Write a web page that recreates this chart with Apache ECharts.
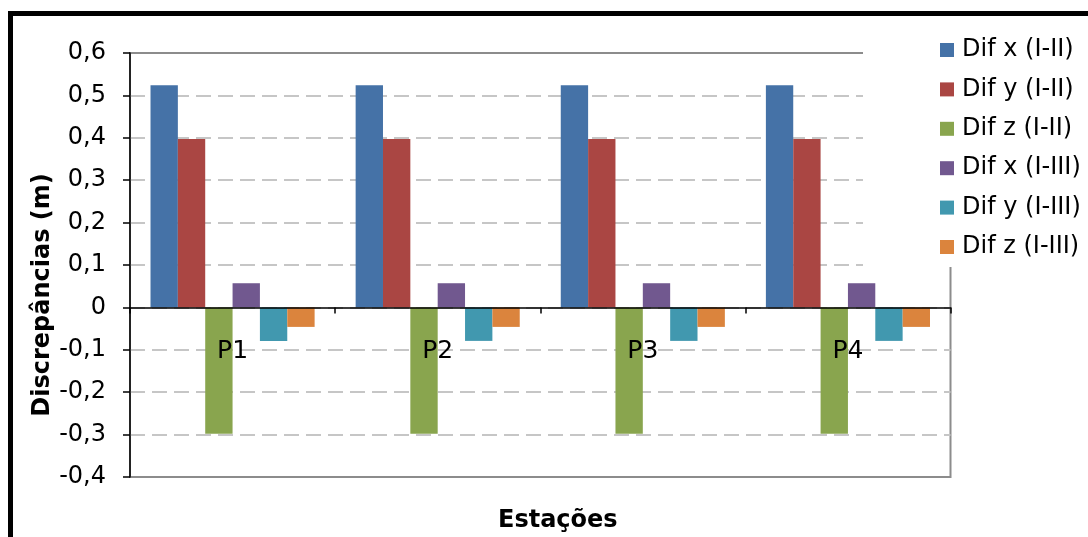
<!DOCTYPE html>
<html>
<head>
<meta charset="utf-8">
<script src="https://cdn.jsdelivr.net/npm/echarts@6/dist/echarts.min.js"></script>
<style>
  html, body { margin: 0; padding: 0; background: #fff; }
  #chart { width: 1088px; height: 537px; }
</style>
</head>
<body>
<div id="chart"></div>
<script>
// Stations (categories)
const stations = ['P1', 'P2', 'P3', 'P4'];

// Discrepancies in metres, per station
const difXI_II = [0.524, 0.524, 0.524, 0.524];
const difYI_II = [0.397, 0.397, 0.397, 0.397];
const difZI_II = [-0.298, -0.298, -0.298, -0.298];
const difXI_III = [0.057, 0.057, 0.057, 0.057];
const difYI_III = [-0.079, -0.079, -0.079, -0.079];
const difZI_III = [-0.046, -0.046, -0.046, -0.046];

const seriesNames = ['Dif x (I-II)', 'Dif y (I-II)', 'Dif z (I-II)', 'Dif x (I-III)', 'Dif y (I-III)', 'Dif z (I-III)'];
const seriesValues = [difXI_II, difYI_II, difZI_II, difXI_III, difYI_III, difZI_III];
const seriesColors = ['#4572A7', '#AA4643', '#89A54E', '#71588F', '#4198AF', '#DB843D'];

// value axis range
const yMin = -0.4;
const yMax = 0.6;

const FONT = 'DejaVu Sans';

// grid geometry: the category axis sits on the zero line
const gridTop = 53;
const gridBottom = 60;
const chartHeight = 537;
const plotHeight = chartHeight - gridTop - gridBottom;
const zeroOffset = -plotHeight * (0 - yMin) / (yMax - yMin);

const chart = echarts.init(document.getElementById('chart'), null, { renderer: 'canvas' });

chart.setOption({
  animation: false,
  backgroundColor: '#fff',
  title: {
    text: 'Estações',
    left: 498,
    top: 509,
    padding: 0,
    textStyle: { fontFamily: FONT, fontWeight: 'bold', fontSize: 24, color: '#000' }
  },
  grid: {
    left: 130, right: 137.5, top: gridTop, bottom: gridBottom,
    show: true, borderColor: '#8c8c8c', borderWidth: 2, backgroundColor: 'transparent'
  },
  legend: {
    orient: 'vertical',
    left: 935,
    top: 32,
    z: 20,
    itemWidth: 14,
    itemHeight: 14,
    itemGap: 13.4,
    icon: 'rect',
    textStyle: { fontFamily: FONT, fontSize: 24, color: '#000', lineHeight: 26, padding: [0, 0, 0, 3] },
    data: seriesNames
  },
  xAxis: {
    type: 'category',
    data: stations,
    position: 'bottom',
    offset: zeroOffset,
    z: 5,
    axisLine: { onZero: false, lineStyle: { color: '#000', width: 1.5 } },
    axisTick: { show: true, length: 6, alignWithLabel: false, lineStyle: { color: '#000', width: 1.5 } },
    axisLabel: { interval: 0, margin: 32, fontFamily: FONT, fontSize: 25, color: '#000' },
    splitLine: { show: false }
  },
  yAxis: {
    type: 'value',
    min: yMin,
    max: yMax,
    interval: 0.1,
    name: 'Discrepâncias (m)',
    nameLocation: 'middle',
    nameGap: 75,
    nameMoveOverlap: false,
    nameTextStyle: { fontFamily: FONT, fontWeight: 'bold', fontSize: 24, color: '#000', padding: [0, 60, 0, 0] },
    axisLine: { show: true, lineStyle: { color: '#000', width: 1.5 } },
    axisTick: { show: true, length: 7, lineStyle: { color: '#000', width: 1.5 } },
    axisLabel: {
      margin: 24,
      fontFamily: FONT,
      fontSize: 24,
      color: '#000',
      formatter: function (v) {
        if (Math.abs(v) < 1e-9) return '0';
        return v.toFixed(1).replace('.', ',');
      }
    },
    splitLine: {
      show: true,
      showMinLine: false,
      showMaxLine: false,
      lineStyle: { color: '#c6c6c6', width: 2, type: [15, 7] }
    }
  },
  graphic: [
    // white panel behind the legend
    { type: 'rect', z: 10, shape: { x: 863, y: 20, width: 300, height: 247 }, style: { fill: '#fff' } },
    // outer black frame
    { type: 'rect', z: 30, shape: { x: 10.5, y: 13.5, width: 1300, height: 800 }, style: { fill: 'none', stroke: '#000', lineWidth: 5 } }
  ],
  series: seriesNames.map(function (name, i) {
    return {
      name: name,
      type: 'bar',
      data: seriesValues[i],
      barGap: '0%',
      barCategoryGap: '20%',
      itemStyle: { color: seriesColors[i] }
    };
  })
});
</script>
</body>
</html>
